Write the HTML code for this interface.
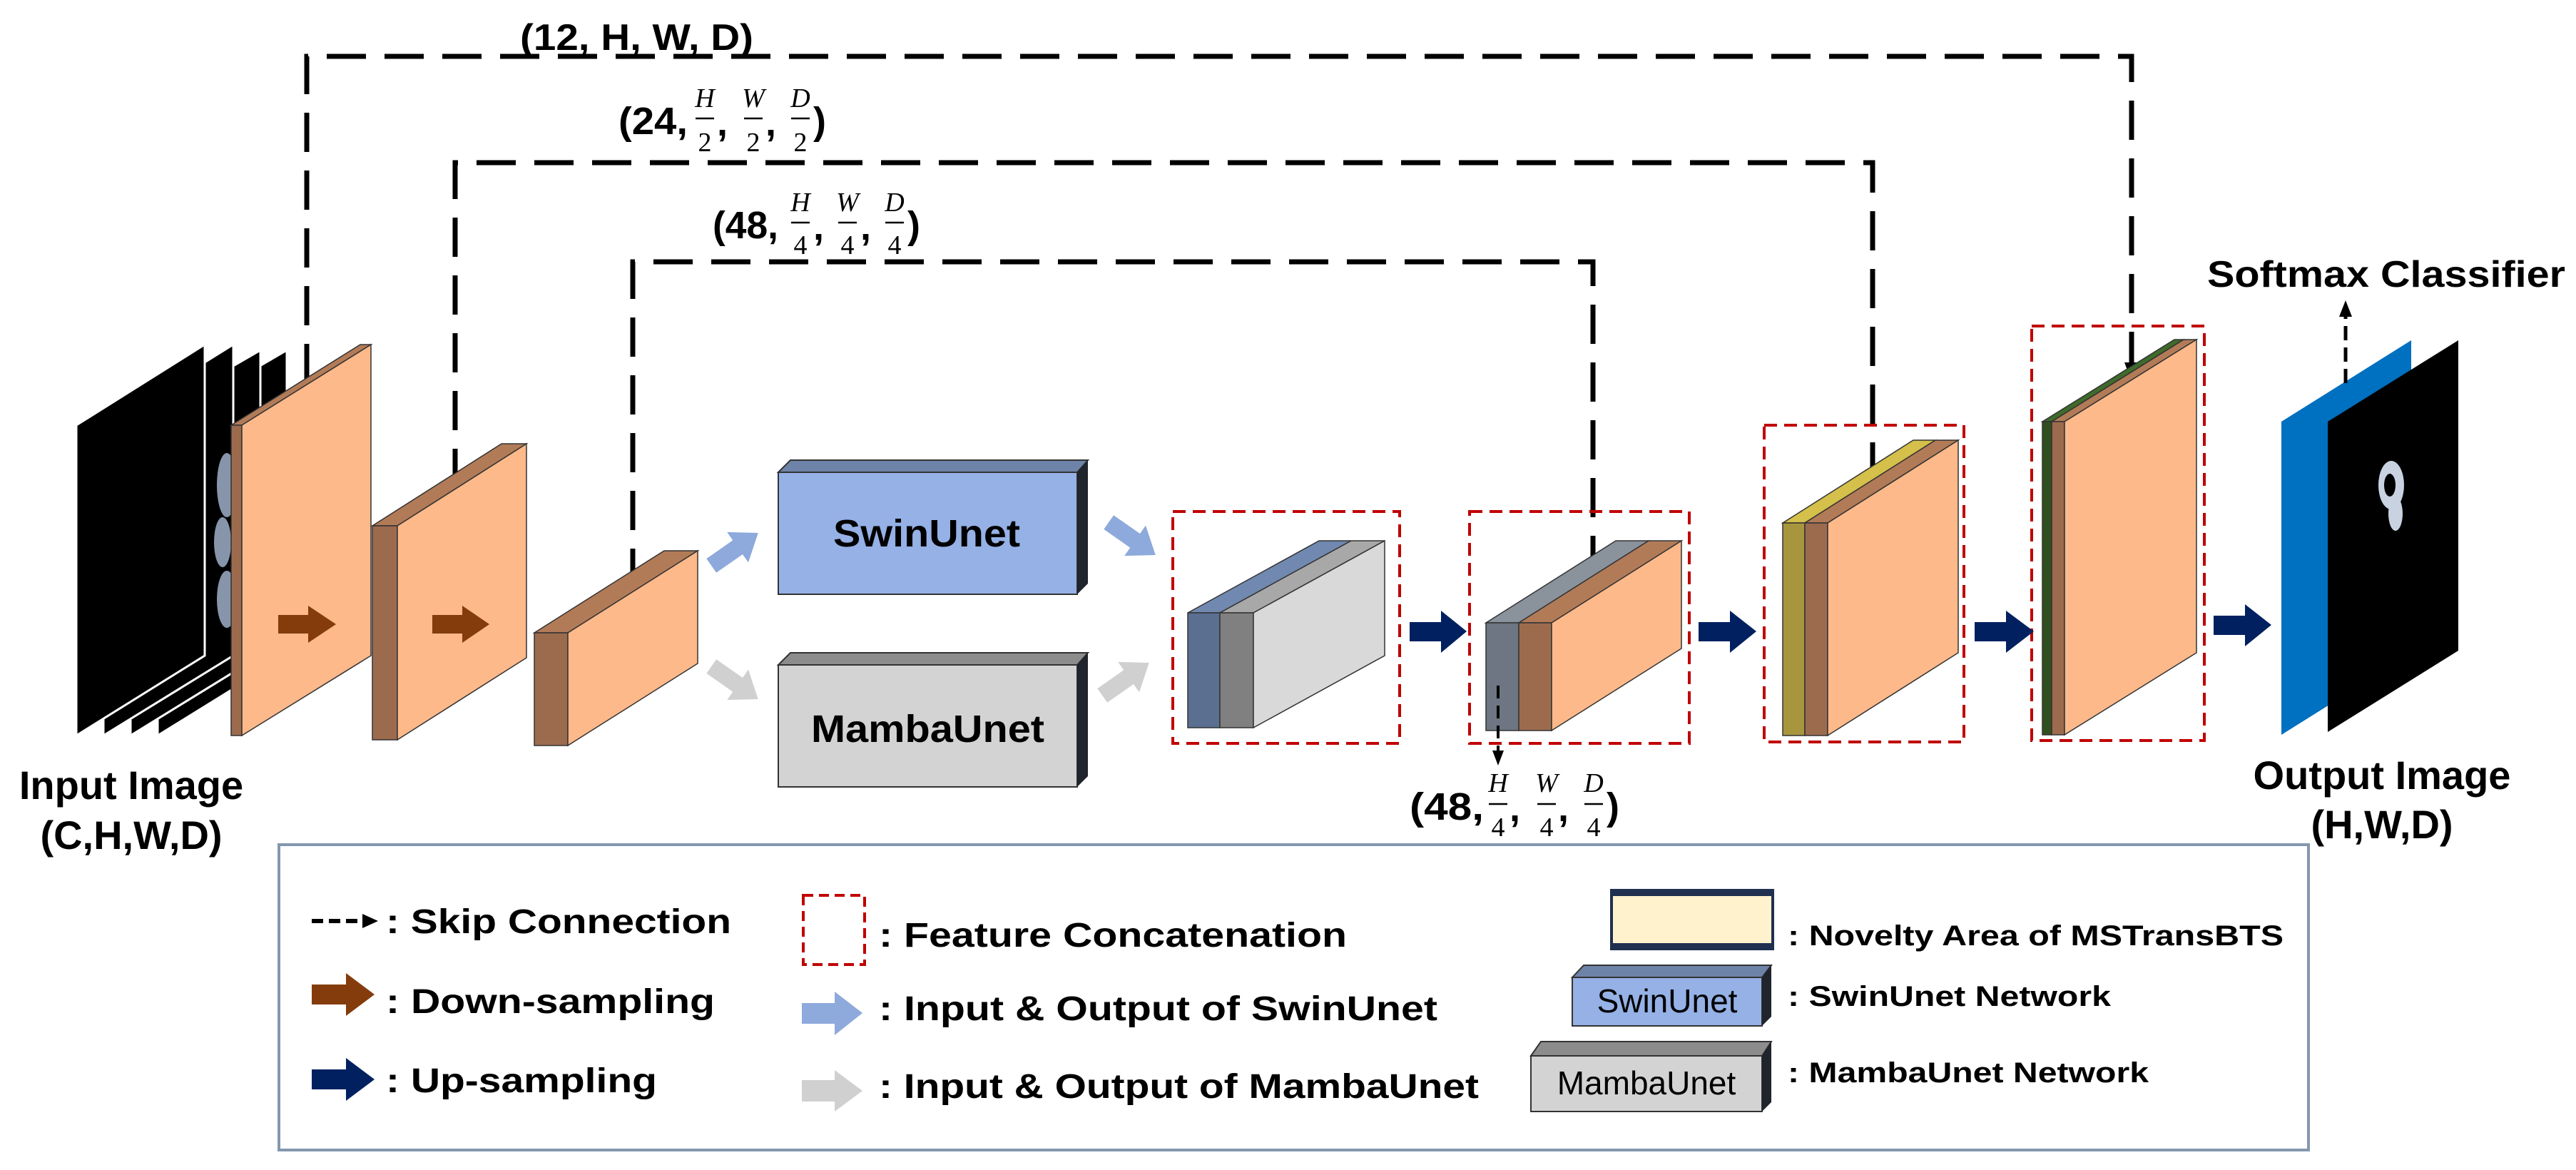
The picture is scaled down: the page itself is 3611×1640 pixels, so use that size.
<!DOCTYPE html>
<html><head><meta charset="utf-8"><style>html,body{margin:0;padding:0;background:#fff}svg{display:block}</style></head>
<body>
<svg xmlns="http://www.w3.org/2000/svg" width="3611" height="1640" viewBox="0 0 3611 1640" font-family="Liberation Sans, Arial, sans-serif">
<defs>
<marker id="ah" markerWidth="6" markerHeight="6" refX="3" refY="3" orient="auto" markerUnits="userSpaceOnUse" viewBox="0 0 6 6"></marker>
</defs>
<rect width="3611" height="1640" fill="#fff"/>

<!-- skip connections -->
<g fill="none" stroke="#000" stroke-width="7" stroke-dasharray="55 26">
<polyline points="430,537 430,79 2988,79 2988,510"/>
<polyline points="638,684 638,228 2625,228 2625,660"/>
<polyline points="887,824 887,367 2233,367 2233,795"/>
</g>
<polygon points="2978,508 2998,508 2988,535" fill="#000"/>
<polygon points="2615,658 2635,658 2625,686" fill="#000"/>
<polygon points="2223,792 2243,792 2233,819" fill="#000"/>

<!-- labels -->
<text x="729" y="70" font-size="52" font-weight="bold" textLength="327" lengthAdjust="spacingAndGlyphs">(12, H, W, D)</text>
<g font-weight="bold" font-size="54">
<text x="867" y="188" textLength="97" lengthAdjust="spacingAndGlyphs">(24,</text>
<text x="1005" y="190">,</text><text x="1073" y="190">,</text><text x="1140" y="188">)</text>
<text x="999" y="334" textLength="92" lengthAdjust="spacingAndGlyphs">(48,</text>
<text x="1140" y="336">,</text><text x="1206" y="336">,</text><text x="1272" y="334">)</text>
<text x="1976" y="1149" textLength="104" lengthAdjust="spacingAndGlyphs">(48,</text>
<text x="2116" y="1151">,</text><text x="2184" y="1151">,</text><text x="2252" y="1149">)</text>
</g>
<g font-family="Liberation Serif, serif" font-size="38" text-anchor="middle">
<g font-style="italic"><text x="988" y="150">H</text><text x="1056" y="150">W</text><text x="1122" y="150">D</text>
<text x="1122" y="296">H</text><text x="1188" y="296">W</text><text x="1254" y="296">D</text>
<text x="2100" y="1110">H</text><text x="2168" y="1110">W</text><text x="2234" y="1110">D</text></g>
<text x="988" y="212">2</text><text x="1056" y="212">2</text><text x="1122" y="212">2</text>
<text x="1122" y="356">4</text><text x="1188" y="356">4</text><text x="1254" y="356">4</text>
<text x="2100" y="1172">4</text><text x="2168" y="1172">4</text><text x="2234" y="1172">4</text>
</g>
<g stroke="#000" stroke-width="2.5">
<line x1="975" y1="166" x2="1001" y2="166"/><line x1="1043" y1="166" x2="1069" y2="166"/><line x1="1109" y1="166" x2="1135" y2="166"/>
<line x1="1109" y1="312" x2="1135" y2="312"/><line x1="1175" y1="312" x2="1201" y2="312"/><line x1="1241" y1="312" x2="1267" y2="312"/>
<line x1="2087" y1="1127" x2="2113" y2="1127"/><line x1="2155" y1="1127" x2="2181" y2="1127"/><line x1="2221" y1="1127" x2="2247" y2="1127"/>
</g>

<!-- input slices -->
<g fill="#000" stroke="#fff" stroke-width="3">
<polygon points="221,596 402,491 402,919 221,1031"/>
<polygon points="183,596 365,491 365,919 183,1031"/>
<polygon points="145,596 327,483 327,919 145,1031"/>
<polygon points="107,596 287,483 287,919 107,1031"/>
</g>
<g fill="#9fb0c8" opacity="0.85">
<ellipse cx="318" cy="680" rx="14" ry="45"/><ellipse cx="312" cy="760" rx="12" ry="35"/><ellipse cx="318" cy="840" rx="14" ry="40"/>
</g>

<!-- encoder slabs -->
<g stroke="#333" stroke-width="1.5">
<polygon points="324,596 505,483 520,483 339,596" fill="#B27B57"/>
<rect x="324" y="596" width="15" height="435" fill="#9C6B4E"/>
<polygon points="339,596 520,483 520,919 339,1031" fill="#FDB98A"/>
<polygon points="522,737 703,622 738,622 557,737" fill="#B27B57"/>
<rect x="522" y="737" width="35" height="300" fill="#9C6B4E"/>
<polygon points="557,737 738,622 738,922 557,1037" fill="#FDB98A"/>
<polygon points="749,887 931,772 978,772 796,887" fill="#B27B57"/>
<rect x="749" y="887" width="47" height="158" fill="#9C6B4E"/>
<polygon points="796,887 978,772 978,930 796,1045" fill="#FDB98A"/>
</g>
<!-- brown arrows -->
<g fill="#843C0C">
<path d="M390,862 H432 V849 L471,875 L432,901 V888 H390 Z"/>
<path d="M606,862 H648 V849 L686,875 L648,901 V888 H606 Z"/>
</g>

<!-- swin / mamba boxes -->
<polygon points="1091,662 1108,645 1525,645 1510,662" fill="#6E83A8" stroke="#333" stroke-width="2"/>
<rect x="1091" y="662" width="419" height="171" fill="#95B1E6" stroke="#333" stroke-width="2"/>
<polygon points="1510,662 1525,645 1525,818 1510,833" fill="#20242c"/>
<text x="1168" y="766" font-size="54" font-weight="bold" textLength="262" lengthAdjust="spacingAndGlyphs">SwinUnet</text>
<polygon points="1091,932 1108,915 1525,915 1510,932" fill="#8c8c8c" stroke="#333" stroke-width="2"/>
<rect x="1091" y="932" width="419" height="171" fill="#D3D3D3" stroke="#333" stroke-width="2"/>
<polygon points="1510,932 1525,915 1525,1088 1510,1103" fill="#20242c"/>
<text x="1137" y="1040" font-size="54" font-weight="bold" textLength="327" lengthAdjust="spacingAndGlyphs">MambaUnet</text>

<!-- slanted arrows -->
<g transform="translate(1030,770) rotate(-35)"><path d="M-40,-12 H5 V-26 L40,0 L5,26 V12 H-40 Z" fill="#8EA9DB"/></g>
<g transform="translate(1030,957) rotate(35)"><path d="M-40,-12 H5 V-26 L40,0 L5,26 V12 H-40 Z" fill="#D0D0D0"/></g>
<g transform="translate(1587,755) rotate(35)"><path d="M-40,-12 H5 V-26 L40,0 L5,26 V12 H-40 Z" fill="#8EA9DB"/></g>
<g transform="translate(1578,952) rotate(-35)"><path d="M-40,-12 H5 V-26 L40,0 L5,26 V12 H-40 Z" fill="#D0D0D0"/></g>

<!-- concat boxes -->
<g fill="none" stroke="#C00000" stroke-width="4" stroke-dasharray="18 10">
<rect x="1644" y="717" width="318" height="325"/>
<rect x="2060" y="717" width="308" height="325"/>
<rect x="2473" y="596" width="280" height="444"/>
<rect x="2848" y="457" width="242" height="581"/>
</g>
<g stroke="#333" stroke-width="1.5">
<!-- c1 -->
<polygon points="1665,859 1849,758 1894,758 1710,859" fill="#7189B0"/>
<polygon points="1710,859 1894,758 1941,758 1757,859" fill="#A8A8A8"/>
<rect x="1665" y="859" width="45" height="161" fill="#5B6F91"/>
<rect x="1710" y="859" width="47" height="161" fill="#808080"/>
<polygon points="1757,859 1941,758 1941,919 1757,1020" fill="#D9D9D9"/>
<!-- c2 -->
<polygon points="2083,873 2265,758 2311,758 2129,873" fill="#8A929C"/>
<polygon points="2129,873 2311,758 2357,758 2175,873" fill="#B27B57"/>
<rect x="2083" y="873" width="46" height="151" fill="#6D7682"/>
<rect x="2129" y="873" width="46" height="151" fill="#9C6B4E"/>
<polygon points="2175,873 2357,758 2357,909 2175,1024" fill="#FDB98A"/>
<!-- c3 -->
<polygon points="2499,733 2682,617 2713,617 2530,733" fill="#D4C04A"/>
<polygon points="2530,733 2713,617 2745,617 2562,733" fill="#B27B57"/>
<rect x="2499" y="733" width="31" height="298" fill="#A8963F"/>
<rect x="2530" y="733" width="32" height="298" fill="#9C6B4E"/>
<polygon points="2562,733 2745,617 2745,915 2562,1031" fill="#FDB98A"/>
<!-- c4 -->
<polygon points="2863,591 3048,476 3061,476 2876,591" fill="#3F6B2A"/>
<polygon points="2876,591 3061,476 3079,476 2894,591" fill="#B27B57"/>
<rect x="2863" y="591" width="13" height="439" fill="#2F4F1F"/>
<rect x="2876" y="591" width="18" height="439" fill="#9C6B4E"/>
<polygon points="2894,591 3079,476 3079,915 2894,1030" fill="#FDB98A"/>
</g>

<!-- upsampling arrows -->
<g fill="#002060">
<path d="M1976,872 H2020 V856 L2056,885 L2020,915 V899 H1976 Z"/>
<path d="M2381,872 H2425 V856 L2462,885 L2425,915 V899 H2381 Z"/>
<path d="M2768,872 H2812 V856 L2851,885 L2812,915 V899 H2768 Z"/>
<path d="M3103,863 H3147 V847 L3184,876 L3147,906 V890 H3103 Z"/>
</g>

<!-- down dashed from c2 -->
<line x1="2100" y1="961" x2="2100" y2="1055" stroke="#000" stroke-width="4" stroke-dasharray="18 10"/>
<polygon points="2092,1052 2108,1052 2100,1073" fill="#000"/>

<!-- output -->
<polygon points="3198,591 3380,477 3380,916 3198,1030" fill="#0070C0"/>
<polygon points="3263,591 3446,477 3446,912 3263,1026" fill="#000"/>
<g fill="#c8d2e0"><ellipse cx="3352" cy="680" rx="18" ry="34"/><ellipse cx="3358" cy="720" rx="10" ry="24"/></g>
<ellipse cx="3350" cy="680" rx="8" ry="16" fill="#000"/>
<line x1="3288" y1="537" x2="3288" y2="440" stroke="#000" stroke-width="5" stroke-dasharray="20 10"/>
<polygon points="3279,444 3297,444 3288,421" fill="#000"/>
<text x="3094" y="402" font-size="52" font-weight="bold" textLength="502" lengthAdjust="spacingAndGlyphs">Softmax Classifier</text>

<g font-weight="bold" font-size="56" text-anchor="middle">
<text x="184" y="1120">Input Image</text>
<text x="184" y="1190">(C,H,W,D)</text>
<text x="3339" y="1106">Output Image</text>
<text x="3339" y="1175">(H,W,D)</text>
</g>

<!-- legend -->
<rect x="391" y="1184" width="2845" height="428" fill="#fff" stroke="#8497B0" stroke-width="4"/>
<line x1="437" y1="1291" x2="510" y2="1291" stroke="#000" stroke-width="6" stroke-dasharray="16 8"/>
<polygon points="508,1281 508,1301 530,1291" fill="#000"/>
<path d="M437,1380 H485 V1364 L525,1394 L485,1424 V1408 H437 Z" fill="#843C0C"/>
<path d="M437,1499 H485 V1483 L525,1513 L485,1543 V1527 H437 Z" fill="#002060"/>
<rect x="1126" y="1255" width="86" height="97" fill="none" stroke="#C00000" stroke-width="4" stroke-dasharray="14 8"/>
<path d="M1124,1406 H1170 V1390 L1209,1420 L1170,1451 V1435 H1124 Z" fill="#8EA9DB"/>
<path d="M1124,1514 H1170 V1500 L1209,1529 L1170,1558 V1544 H1124 Z" fill="#D0D0D0"/>
<g font-weight="bold" font-size="48">
<text x="541" y="1308" textLength="484" lengthAdjust="spacingAndGlyphs">: Skip Connection</text>
<text x="541" y="1420" textLength="461" lengthAdjust="spacingAndGlyphs">: Down-sampling</text>
<text x="541" y="1531" textLength="380" lengthAdjust="spacingAndGlyphs">: Up-sampling</text>
<text x="1232" y="1327" textLength="656" lengthAdjust="spacingAndGlyphs">: Feature Concatenation</text>
<text x="1232" y="1430" textLength="783" lengthAdjust="spacingAndGlyphs">: Input &amp; Output of SwinUnet</text>
<text x="1232" y="1539" textLength="841" lengthAdjust="spacingAndGlyphs">: Input &amp; Output of MambaUnet</text>
</g>
<rect x="2259" y="1248" width="226" height="82" fill="#FFF2CC" stroke="#1F3050" stroke-width="4"/>
<rect x="2259" y="1248" width="226" height="8" fill="#1F3050"/>
<rect x="2259" y="1322" width="226" height="8" fill="#1F3050"/>
<polygon points="2204,1370 2220,1353 2483,1353 2470,1370" fill="#6E83A8" stroke="#333" stroke-width="2"/>
<rect x="2204" y="1370" width="266" height="68" fill="#95B1E6" stroke="#333" stroke-width="2"/>
<polygon points="2470,1370 2483,1353 2483,1425 2470,1438" fill="#20242c"/>
<text x="2337" y="1419" font-size="46" text-anchor="middle">SwinUnet</text>
<polygon points="2146,1480 2160,1460 2483,1460 2470,1480" fill="#8c8c8c" stroke="#333" stroke-width="2"/>
<rect x="2146" y="1480" width="324" height="78" fill="#D3D3D3" stroke="#333" stroke-width="2"/>
<polygon points="2470,1480 2483,1460 2483,1545 2470,1558" fill="#20242c"/>
<text x="2308" y="1534" font-size="46" text-anchor="middle">MambaUnet</text>
<g font-weight="bold" font-size="40">
<text x="2506" y="1325" textLength="695" lengthAdjust="spacingAndGlyphs">: Novelty Area of MSTransBTS</text>
<text x="2506" y="1410" textLength="453" lengthAdjust="spacingAndGlyphs">: SwinUnet Network</text>
<text x="2506" y="1517" textLength="506" lengthAdjust="spacingAndGlyphs">: MambaUnet Network</text>
</g>
</svg>
</body></html>
